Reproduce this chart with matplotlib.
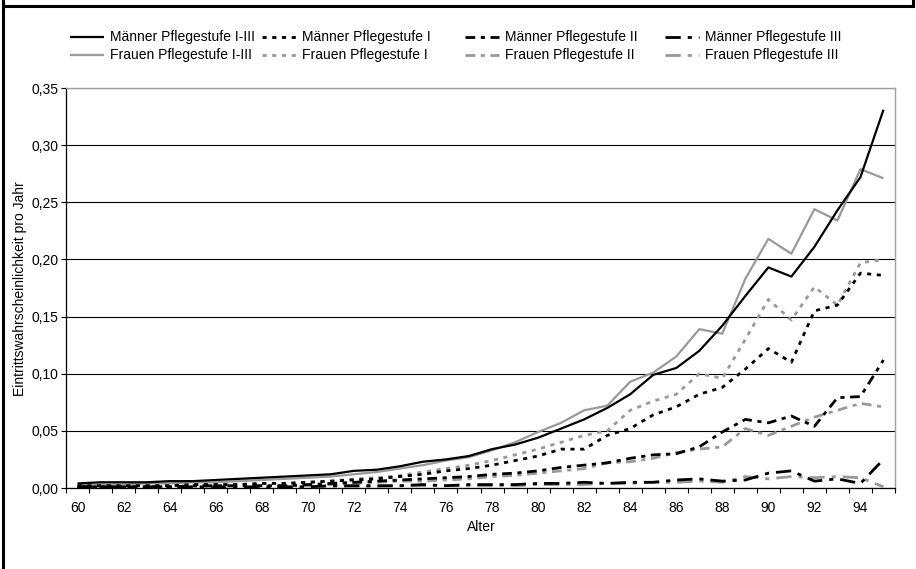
import matplotlib
matplotlib.use("Agg")
import matplotlib.pyplot as plt
from matplotlib.lines import Line2D
from matplotlib.ticker import FuncFormatter, FixedLocator

plt.rcParams['font.family'] = ['Liberation Sans', 'DejaVu Sans']

ages = list(range(60, 96))

maenner_1_3 = [0.004, 0.005, 0.005, 0.005, 0.006, 0.006, 0.007, 0.008, 0.009, 0.010,
               0.011, 0.012, 0.015, 0.016, 0.019, 0.023, 0.025, 0.028, 0.034, 0.038,
               0.044, 0.052, 0.060, 0.070, 0.082, 0.099, 0.105, 0.120, 0.142, 0.168,
               0.193, 0.185, 0.211, 0.243, 0.272, 0.331]
frauen_1_3 = [0.003, 0.003, 0.003, 0.004, 0.004, 0.005, 0.005, 0.006, 0.007, 0.008,
              0.009, 0.010, 0.012, 0.014, 0.017, 0.020, 0.024, 0.027, 0.033, 0.040,
              0.049, 0.057, 0.068, 0.072, 0.093, 0.101, 0.115, 0.139, 0.135, 0.183,
              0.218, 0.205, 0.244, 0.234, 0.279, 0.271]
maenner_1 = [0.002, 0.002, 0.002, 0.002, 0.002, 0.003, 0.003, 0.003, 0.004, 0.004,
             0.005, 0.006, 0.007, 0.008, 0.010, 0.012, 0.015, 0.017, 0.020, 0.024,
             0.028, 0.034, 0.034, 0.046, 0.052, 0.064, 0.071, 0.082, 0.088, 0.104,
             0.122, 0.110, 0.155, 0.160, 0.188, 0.186]
frauen_1 = [0.001, 0.001, 0.002, 0.002, 0.002, 0.003, 0.003, 0.003, 0.004, 0.004,
            0.005, 0.006, 0.008, 0.009, 0.011, 0.014, 0.017, 0.020, 0.024, 0.029,
            0.034, 0.040, 0.046, 0.050, 0.068, 0.076, 0.082, 0.100, 0.096, 0.130,
            0.165, 0.147, 0.176, 0.160, 0.197, 0.200]
maenner_2 = [0.001, 0.001, 0.001, 0.001, 0.001, 0.002, 0.002, 0.002, 0.002, 0.002,
             0.003, 0.004, 0.005, 0.006, 0.007, 0.008, 0.009, 0.010, 0.012, 0.013,
             0.015, 0.018, 0.020, 0.022, 0.026, 0.029, 0.030, 0.036, 0.049, 0.060,
             0.057, 0.063, 0.054, 0.079, 0.080, 0.112]
frauen_2 = [0.001, 0.001, 0.001, 0.001, 0.001, 0.001, 0.001, 0.002, 0.002, 0.002,
            0.002, 0.003, 0.004, 0.005, 0.006, 0.006, 0.007, 0.008, 0.010, 0.011,
            0.013, 0.015, 0.017, 0.022, 0.023, 0.026, 0.031, 0.034, 0.036, 0.052,
            0.046, 0.054, 0.062, 0.068, 0.074, 0.071]
maenner_3 = [0.001, 0.001, 0.001, 0.001, 0.001, 0.001, 0.001, 0.001, 0.001, 0.001,
             0.001, 0.002, 0.002, 0.002, 0.002, 0.003, 0.002, 0.003, 0.003, 0.003,
             0.004, 0.004, 0.005, 0.004, 0.005, 0.005, 0.007, 0.008, 0.006, 0.007,
             0.013, 0.015, 0.006, 0.008, 0.004, 0.025]
frauen_3 = [0.000, 0.001, 0.000, 0.001, 0.000, 0.001, 0.000, 0.001, 0.000, 0.001,
            0.001, 0.001, 0.001, 0.001, 0.002, 0.002, 0.002, 0.002, 0.002, 0.002,
            0.003, 0.003, 0.003, 0.004, 0.004, 0.005, 0.005, 0.006, 0.005, 0.010,
            0.008, 0.010, 0.009, 0.010, 0.009, 0.001]

labels = ["Männer Pflegestufe I-III", "Männer Pflegestufe I", "Männer Pflegestufe II", "Männer Pflegestufe III",
          "Frauen Pflegestufe I-III", "Frauen Pflegestufe I", "Frauen Pflegestufe II", "Frauen Pflegestufe III"]
series = [maenner_1_3, maenner_1, maenner_2, maenner_3, frauen_1_3, frauen_1, frauen_2, frauen_3]

BLACK = "#000000"
GRAY = "#999999"
styles = [
    dict(color=BLACK, lw=1.6, ls='-'),
    dict(color=BLACK, lw=2.0, ls=(0, (1.5, 2.0))),
    dict(color=BLACK, lw=2.0, ls=(0, (3.5, 2.0, 1.5, 2.0))),
    dict(color=BLACK, lw=2.0, ls=(0, (5.5, 2.5, 1.5, 2.5))),
    dict(color=GRAY, lw=1.6, ls='-'),
    dict(color=GRAY, lw=2.0, ls=(0, (1.5, 2.0))),
    dict(color=GRAY, lw=2.0, ls=(0, (3.5, 2.0, 1.5, 2.0))),
    dict(color=GRAY, lw=2.0, ls=(0, (5.5, 2.5, 1.5, 2.5))),
]

W, H = 916, 569
fig = plt.figure(figsize=(W / 100, H / 100), dpi=100)
fig.patch.set_facecolor('white')

left, right, bottom, top = 66, 895, 488, 88
ax = fig.add_axes([left / W, (H - bottom) / H, (right - left) / W, (bottom - top) / H])

xs = list(range(len(ages)))
draw_order = [4, 5, 6, 7, 0, 1, 2, 3]
for i in draw_order:
    s = styles[i]
    ax.plot(xs, series[i], color=s['color'], lw=s['lw'], linestyle=s['ls'],
            solid_capstyle='butt', dash_capstyle='butt', zorder=3)

ax.set_xlim(-0.5, len(ages) - 0.5)
ax.set_ylim(0, 0.35)
ax.set_yticks([0, 0.05, 0.10, 0.15, 0.20, 0.25, 0.30, 0.35])
ax.yaxis.set_major_formatter(FuncFormatter(lambda v, p: f"{v:.2f}".replace('.', ',')))
ax.yaxis.grid(True, color='black', lw=0.8)
ax.set_axisbelow(True)

ax.xaxis.set_major_locator(FixedLocator([x - 0.5 for x in range(len(ages) + 1)]))
ax.xaxis.set_major_formatter(FuncFormatter(lambda v, p: ""))
ax.xaxis.set_minor_locator(FixedLocator(xs[::2]))
ax.set_xticklabels([str(a) for a in ages[::2]], minor=True)
ax.tick_params(axis='x', which='major', direction='out', length=3.5, width=0.8, color='black')
ax.tick_params(axis='x', which='minor', length=0, pad=9, labelsize=10)
ax.tick_params(axis='y', which='major', direction='out', length=3.5, width=0.8, pad=2, labelsize=10)

for side in ['top', 'right']:
    ax.spines[side].set_color('#a0a0a0')
    ax.spines[side].set_linewidth(1.0)
for side in ['left', 'bottom']:
    ax.spines[side].set_color('black')
    ax.spines[side].set_linewidth(0.9)

fig.text(20 / W, 1 - 289 / H, "Eintrittswahrscheinlichkeit pro Jahr", rotation=90,
         ha='center', va='center', fontsize=10)
fig.text(481 / W, 1 - 527 / H, "Alter", ha='center', va='center', fontsize=10)

# legend (manual, Excel-like)
col_x = [70, 262, 465, 665]
row_y = [37, 55]
for idx in range(8):
    r, c = divmod(idx, 4)
    s = styles[idx]
    x0 = col_x[c]
    y = 1 - row_y[r] / H
    fig.add_artist(Line2D([x0 / W, (x0 + 34) / W], [y, y], transform=fig.transFigure,
                          color=s['color'], lw=s['lw'], linestyle=s['ls'],
                          solid_capstyle='butt', dash_capstyle='butt'))
    fig.text((x0 + 40) / W, y, labels[idx], ha='left', va='center', fontsize=10)

# outer frame pieces
fig.add_artist(Line2D([3 / W, 913 / W], [1 - 6 / H, 1 - 6 / H], transform=fig.transFigure,
                      color='black', lw=2.2))
fig.add_artist(Line2D([3 / W, 3 / W], [0, 1], transform=fig.transFigure, color='black', lw=2.2))
fig.add_artist(Line2D([913 / W, 913 / W], [1 - 6 / H, 1], transform=fig.transFigure,
                      color='black', lw=2.2))

fig.savefig("out.png", dpi=100)
